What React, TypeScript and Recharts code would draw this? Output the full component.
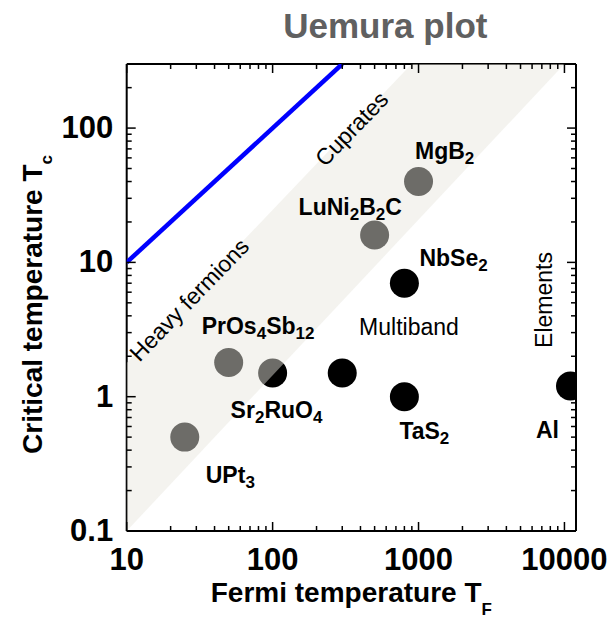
import React from 'react';
import { ComposedChart, Scatter, Area, Line, XAxis, YAxis, Label } from 'recharts';

const FONT = '"Liberation Sans", Arial, sans-serif';

// superconductors: Fermi temperature vs critical temperature (K)
const names = ['UPt_3', 'PrOs_4Sb_12', 'Sr_2RuO_4', '', 'LuNi_2B_2C', 'MgB_2', 'NbSe_2', 'TaS_2', 'Al'];
const fermiTemps = [25, 50, 100, 300, 500, 1000, 800, 800, 11000];
const criticalTemps = [0.5, 1.8, 1.5, 1.5, 16, 40, 7, 1.0, 1.2];

// blue line Tc = TF
const lineTF = [10, 300];
const lineTc = [10, 300];

// shaded band (unconventional superconductors)
const bandTF = [10, 10000];
const bandLow = [0.1, 300];
const bandHigh = [1.78, 4700];

const xTicks = [10, 20, 30, 40, 50, 60, 70, 80, 90, 100, 200, 300, 400, 500, 600, 700, 800, 900,
  1000, 2000, 3000, 4000, 5000, 6000, 7000, 8000, 9000, 10000];
const yTicks = [0.1, 0.2, 0.3, 0.4, 0.5, 0.6, 0.7, 0.8, 0.9, 1, 2, 3, 4, 5, 6, 7, 8, 9,
  10, 20, 30, 40, 50, 60, 70, 80, 90, 100, 200];
const xMajor = [10, 100, 1000, 10000];
const yMajor = [0.1, 1, 10, 100];

const regionNames = ['Heavy fermions', 'Cuprates', 'Multiband', 'Elements'];
const regionTF = [29.4, 381, 860, 8220];
const regionTc = [4.8, 90, 2.88, 5.25];

// label placement relative to the marker (px)
const labelOffset: Record<string, [number, number]> = {
  'UPt_3': [21, 46],
  'PrOs_4Sb_12': [-27, -28],
  'Sr_2RuO_4': [-42, 45],
  'LuNi_2B_2C': [-76, -20],
  'MgB_2': [-3.5, -23],
  'NbSe_2': [15, -17.5],
  'TaS_2': [-5, 42],
  'Al': [-34.5, 52],
};
const regionAngle: Record<string, number> = {
  'Heavy fermions': -46, 'Cuprates': -46, 'Multiband': 0, 'Elements': -90,
};

const points = names.map((name, i) => ({ name, x: fermiTemps[i], y: criticalTemps[i] }));
const lineData = lineTF.map((x, i) => ({ x, y: lineTc[i] }));
const bandData = bandTF.map((x, i) => ({ x, band: [bandLow[i], bandHigh[i]] }));
const regions = regionNames.map((name, i) => ({ name, x: regionTF[i], y: regionTc[i] }));

// "MgB_2" -> MgB with subscript 2
function rich(label: string, size: number, subSize: number, shift: number) {
  const parts = label.split(/_(\d+|[A-Za-z])/);
  const out: any[] = [];
  let down = false;
  parts.forEach((p, i) => {
    if (!p) return;
    const sub = i % 2 === 1;
    let dy = 0;
    if (sub && !down) { dy = shift; down = true; }
    else if (!sub && down) { dy = -shift; down = false; }
    out.push(<tspan key={i} dy={dy} fontSize={sub ? subSize : size}>{p}</tspan>);
  });
  return out;
}

const Dot = (p: any) => <circle cx={p.cx} cy={p.cy} r={14.5} fill="#000" />;

const NameTag = (p: any) => {
  const name = p.payload?.name;
  if (!name) return <g />;
  const off = labelOffset[name];
  return (
    <text x={p.cx + off[0]} y={p.cy + off[1]} fontFamily={FONT} fontWeight="bold" fontSize={23} fill="#000">
      {rich(name, 23, 17, 5)}
    </text>
  );
};

const RegionTag = (p: any) => {
  const name = p.payload?.name;
  const a = regionAngle[name] || 0;
  return (
    <text x={p.cx} y={p.cy} textAnchor="middle" transform={`rotate(${a}, ${p.cx}, ${p.cy})`}
      fontFamily={FONT} fontSize={23} fill="#000">{name}</text>
  );
};

const tickStyle = { fontFamily: FONT, fontWeight: 'bold' as const, fontSize: 31, fill: '#000' };

const BottomTick = (p: any) => {
  const v = p.payload.value;
  const major = xMajor.includes(v);
  return (
    <g>
      <line x1={p.x} x2={p.x} y1={p.y} y2={p.y - (major ? 9 : 5)} stroke="#000" strokeWidth={1.5} />
      {major && <text x={p.x} y={p.y + 38.5} textAnchor="middle" {...tickStyle}>{v}</text>}
    </g>
  );
};
const TopTick = (p: any) => {
  const major = xMajor.includes(p.payload.value);
  return <line x1={p.x} x2={p.x} y1={p.y} y2={p.y + (major ? 9 : 5)} stroke="#000" strokeWidth={1.5} />;
};
const LeftTick = (p: any) => {
  const v = p.payload.value;
  const major = yMajor.includes(v);
  return (
    <g>
      <line x1={p.x} x2={p.x + (major ? 9 : 5)} y1={p.y} y2={p.y} stroke="#000" strokeWidth={1.5} />
      {major && <text x={p.x - 13.5} y={p.y + 10} textAnchor="end" {...tickStyle}>{v}</text>}
    </g>
  );
};
const RightTick = (p: any) => {
  const major = yMajor.includes(p.payload.value);
  return <line x1={p.x} x2={p.x - (major ? 9 : 5)} y1={p.y} y2={p.y} stroke="#000" strokeWidth={1.5} />;
};

const axisLine = { stroke: '#000', strokeWidth: 2 };

export default function App() {
  return (
    <>
      <style>{'body{margin:0}'}</style>
      <ComposedChart width={611} height={621} margin={{ top: 54, right: 25, bottom: 40, left: 26.7 }}>
        <XAxis xAxisId="b" dataKey="x" type="number" scale="log" domain={[10, 12000]} allowDataOverflow
          ticks={xTicks} interval={0} tick={BottomTick} tickLine={false} tickSize={0} tickMargin={0}
          axisLine={axisLine} height={50}>
          <Label content={(p: any) => {
            const vb = p.viewBox;
            return (
              <text x={vb.x + vb.width / 2} y={vb.y + 71} textAnchor="middle" fontFamily={FONT} fontWeight="bold" fontSize={28} fill="#000">
                {rich('Fermi temperature T_F', 28, 17, 13)}
              </text>
            );
          }} />
        </XAxis>
        <XAxis xAxisId="t" orientation="top" dataKey="x" type="number" scale="log" domain={[10, 12000]} allowDataOverflow
          ticks={xTicks} interval={0} tick={TopTick} tickLine={false} tickSize={0} tickMargin={0}
          axisLine={axisLine} height={10}>
          <Label content={(p: any) => {
            const vb = p.viewBox;
            return (
              <text x={vb.x + vb.width / 2 + 34} y={vb.y - 16} textAnchor="middle" fontFamily={FONT} fontWeight="bold" fontSize={35} fill="#606060">
                Uemura plot
              </text>
            );
          }} />
        </XAxis>
        <YAxis yAxisId="l" dataKey="y" type="number" scale="log" domain={[0.1, 300]} allowDataOverflow
          ticks={yTicks} interval={0} tick={LeftTick} tickLine={false} tickSize={0} tickMargin={0}
          axisLine={axisLine} width={100}>
          <Label content={(p: any) => {
            const vb = p.viewBox;
            const x = vb.x + vb.width - 84.7;
            const y = vb.y + vb.height / 2 + 7;
            return (
              <text x={x} y={y} transform={`rotate(-90, ${x}, ${y})`} textAnchor="middle" fontFamily={FONT} fontWeight="bold" fontSize={28} fill="#000">
                {rich('Critical temperature T_c', 28, 17, 10)}
              </text>
            );
          }} />
        </YAxis>
        <YAxis yAxisId="r" orientation="right" dataKey="y" type="number" scale="log" domain={[0.1, 300]} allowDataOverflow
          ticks={yTicks} interval={0} tick={RightTick} tickLine={false} tickSize={0} tickMargin={0}
          axisLine={axisLine} width={10} />

        <Scatter xAxisId="b" yAxisId="l" data={points} shape={Dot} isAnimationActive={false} />
        <Area xAxisId="b" yAxisId="l" data={bandData} dataKey="band" type="linear" stroke="none"
          fill="#e8e6de" fillOpacity={0.47} isAnimationActive={false} zIndex={650} />
        <Line xAxisId="b" yAxisId="l" data={lineData} dataKey="y" type="linear" stroke="#0000ff"
          strokeWidth={4.5} dot={false} activeDot={false} isAnimationActive={false} zIndex={650} />
        <Scatter xAxisId="b" yAxisId="l" data={points} shape={NameTag} isAnimationActive={false} zIndex={700} />
        <Scatter xAxisId="b" yAxisId="l" data={regions} shape={RegionTag} isAnimationActive={false} zIndex={700} />
      </ComposedChart>
    </>
  );
}
